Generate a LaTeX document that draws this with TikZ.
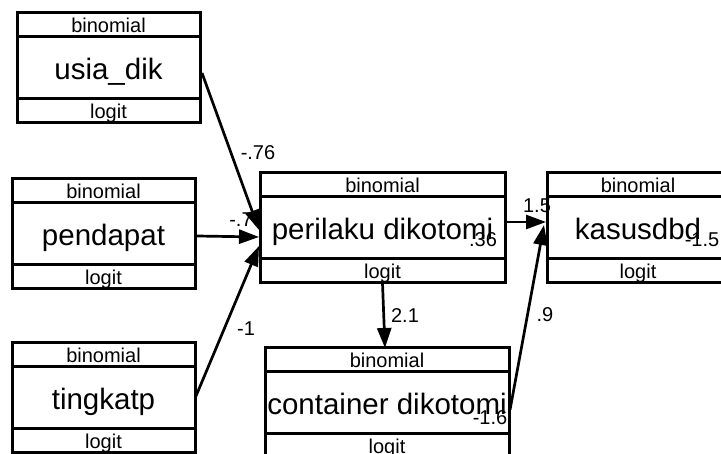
\documentclass[tikz,border=0pt]{standalone}
\usepackage{fontspec}
\setmainfont{Liberation Sans}
\usetikzlibrary{arrows.meta,calc}
\begin{document}
\begin{tikzpicture}[x=1pt,y=-1pt,
  boxframe/.style={draw=black, line width=3pt, fill=white, rectangle, inner sep=0pt, outer sep=0pt, anchor=north west, minimum height=110pt},
  divider/.style={line width=3pt},
  smalltext/.style={font=\fontsize{20}{24}\selectfont, anchor=base, inner sep=0pt},
  bigtext/.style={font=\fontsize{29.5}{35}\selectfont, anchor=base, inner sep=0pt},
  conn/.style={line width=2.7pt, -{Triangle[length=20pt,width=14pt]}},
  coef/.style={font=\fontsize{20}{24}\selectfont, inner sep=0pt}]
\useasboundingbox (0,0) rectangle (721,454);
\clip (0,0) rectangle (721,454);
% boxes
\foreach \n/\l/\t/\w/\txt in {usia/17/13/183/usia\_dik, pendapat/12/179/183/pendapat, tingkatp/12/343/183/tingkatp, perilaku/260/173/245/perilaku dikotomi, kasus/547/173/182/kasusdbd, container/265/348/244/container dikotomi} {
  \node[boxframe, minimum width=\w pt] (\n) at (\l,\t) {};
  \draw[divider] ($(\n.north west)+(0,24)$) -- ($(\n.north east)+(0,24)$);
  \draw[divider] ($(\n.north west)+(0,86)$) -- ($(\n.north east)+(0,86)$);
  \node[smalltext] (\n-bin) at ($(\n.north)+(0,20)$) {binomial};
  \node[bigtext] (\n-name) at ($(\n.north)+(0,67)$) {\txt};
  \node[smalltext] (\n-link) at ($(\n.north)+(0,106)$) {logit};
}
% connector end points
\coordinate (usia-out) at ($(usia.north east)+(2,60)$);
\coordinate (pendapat-out) at ($(pendapat.north east)+(2,57)$);
\coordinate (tingkatp-out) at ($(tingkatp.north east)+(1,53)$);
\coordinate (per-in1) at ($(perilaku.north west)+(-1,57)$);
\coordinate (per-in2) at ($(perilaku.north west)+(-1,64)$);
\coordinate (per-in3) at ($(perilaku.north west)+(-1,73)$);
\coordinate (per-out) at ($(perilaku.north east)+(0,49)$);
\coordinate (per-down) at ($(perilaku.south)+(0,0)$);
\coordinate (cont-in) at ($(container.north)+(-2,0)$);
\coordinate (cont-out) at ($(container.north east)+(1,62)$);
\coordinate (kas-in1) at ($(kasus.north west)+(-1,49)$);
\coordinate (kas-in2) at ($(kasus.north west)+(-3,52)$);
% labels
\node[coef] (l1) at (258,153) {-.76};
\node[coef] (l2) at (241,220) {-.7};
\node[coef] (l3) at (246,329) {-1};
\node[coef] (l4) at (405,316) {2.1};
\node[coef] (l5) at (545,315) {.9};
\node[coef] (l6) at (537,206) {1.5};
\node[coef] (l7) at (483,240) {.36};
\node[coef] (l8) at (702,240) {-1.5};
\node[coef] (l9) at (490,418) {-1.6};
% connectors
\draw[conn] (usia-out) -- (per-in1);
\draw[conn] (pendapat-out) -- (per-in2);
\draw[conn] (tingkatp-out) -- (per-in3);
\draw[conn] (per-down) -- (cont-in);
\draw[conn] (per-out) -- (kas-in1);
\draw[conn] (cont-out) -- (kas-in2);
\end{tikzpicture}
\end{document}
